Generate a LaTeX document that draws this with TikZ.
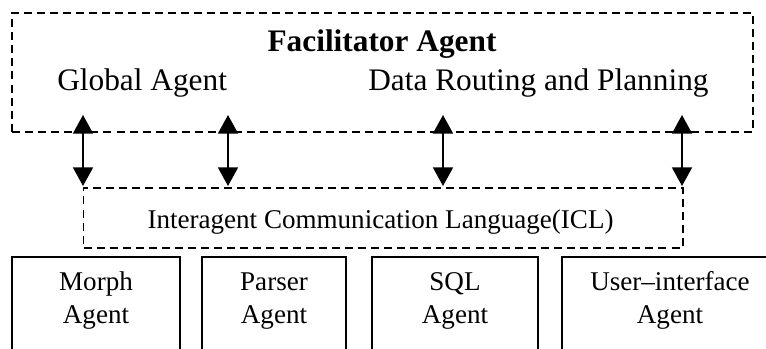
\documentclass[tikz,border=0pt]{standalone}
\usepackage{fontspec}
\setmainfont{Liberation Serif}
\usetikzlibrary{arrows.meta,fit}
\begin{document}
\begin{tikzpicture}[x=0.75pt,y=-0.75pt,
  dashbox/.style={draw, line width=1.1pt, dash pattern=on 6pt off 3.8pt, inner sep=0pt},
  agentbox/.style={draw, line width=1.4pt, inner sep=0pt},
  biarrow/.style={line width=1.4pt, {Triangle[length=14pt,width=15pt]}-{Triangle[length=14pt,width=15pt]}},
  bigtext/.style={font=\fontsize{23.5pt}{28pt}\selectfont, inner sep=0pt},
  smalltext/.style={font=\fontsize{20.3pt}{24pt}\selectfont, inner sep=0pt}]
\useasboundingbox (0,0) rectangle (766,349);
\clip (0,0) rectangle (766,349);
% facilitator box
\node[dashbox, fit={(12,13) (753,132)}] (fac) {};
\node[bigtext, anchor=base, font=\fontsize{23.5pt}{28pt}\selectfont\bfseries] (factitle) at (382,52) {Facilitator Agent};
\node[bigtext, anchor=base west] (global) at (57,91) {Global Agent};
\node[bigtext, anchor=base west] (routing) at (368,91) {Data Routing and Planning};
% ICL box
\node[dashbox, fit={(83.5,188) (683,248)}] (icl) {};
\node[smalltext, anchor=base] (icltext) at (380.5,228) {Interagent Communication Language(ICL)};
% arrows
\coordinate (a1t) at (83,115);  \coordinate (a1b) at (83,186);
\coordinate (a2t) at (228,115); \coordinate (a2b) at (228,186);
\coordinate (a3t) at (443,115); \coordinate (a3b) at (443,186);
\coordinate (a4t) at (682,115); \coordinate (a4b) at (682,186);
\draw[biarrow] (a1t) -- (a1b);
\draw[biarrow] (a2t) -- (a2b);
\draw[biarrow] (a3t) -- (a3b);
\draw[biarrow] (a4t) -- (a4b);
% agent boxes (cut off by the picture's lower edge)
\node[agentbox, fit={(12,257) (180,380)}] (morph) {};
\node[agentbox, fit={(202,257) (346,380)}] (parser) {};
\node[agentbox, fit={(372,257) (538,380)}] (sql) {};
\node[agentbox, fit={(562,257) (780,380)}] (ui) {};
\node[smalltext, anchor=base] (m1) at (96,290) {Morph};
\node[smalltext, anchor=base] (m2) at (96,323) {Agent};
\node[smalltext, anchor=base] (p1) at (274,290) {Parser};
\node[smalltext, anchor=base] (p2) at (274,323) {Agent};
\node[smalltext, anchor=base] (s1) at (455,290) {SQL};
\node[smalltext, anchor=base] (s2) at (455,323) {Agent};
\node[smalltext, anchor=base] (u1) at (670,290) {User–interface};
\node[smalltext, anchor=base] (u2) at (670,323) {Agent};
\end{tikzpicture}
\end{document}
